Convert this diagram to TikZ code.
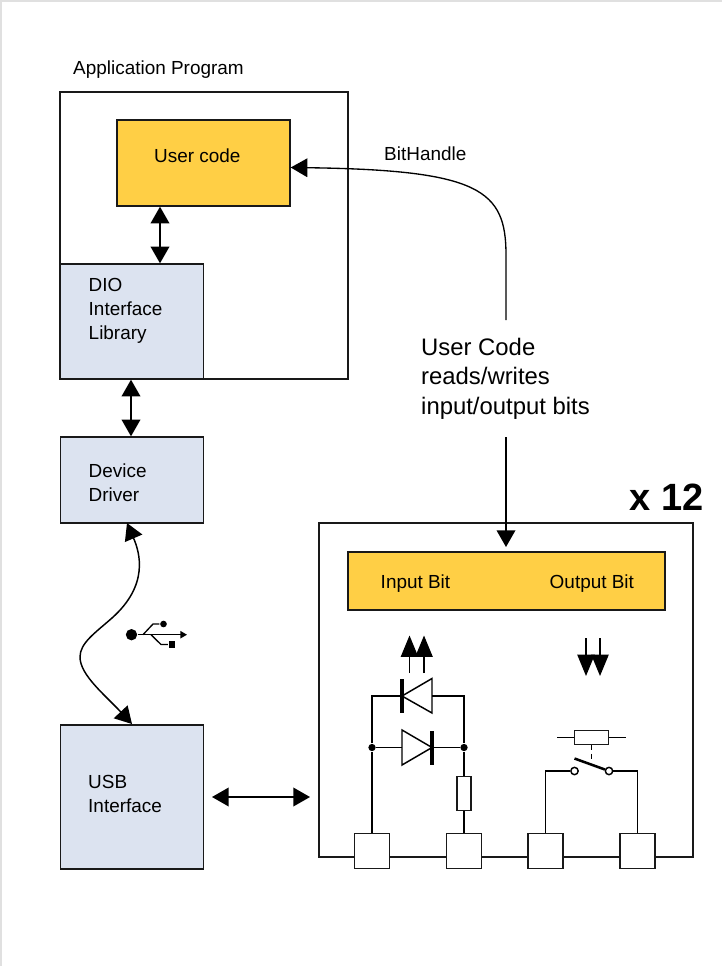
\documentclass[tikz,border=0pt]{standalone}
\usepackage{fontspec}
\setmainfont{Liberation Sans}
\usetikzlibrary{arrows.meta, shapes, positioning}
\definecolor{bluefill}{HTML}{DCE3F0}
\definecolor{yellowfill}{HTML}{FFCF45}

\begin{document}
\begin{tikzpicture}[
            x = 0.75pt, y = -0.75pt, % one unit is one pixel, y runs down
            > = {Triangle[length=12.5pt, width=14pt]}, % arrow head style
            line width = 1.1pt, % line style
        ]
 \tikzstyle{boxstyle}=[
            shape = rectangle,
            draw = black!90,
            line width = 1.05pt,
            inner sep = 0pt
        ]
 \tikzstyle{bluebox}=[boxstyle, fill = bluefill, minimum width = 107.5pt]
 \tikzstyle{yellowbox}=[boxstyle, fill = yellowfill]
 \tikzstyle{terminal}=[boxstyle, fill = white, line width = 1.2pt, minimum size = 26pt]
 \tikzstyle{labelstyle}=[
            anchor = west,
            align = left,
            inner sep = 0pt,
            font = \fontsize{14.2}{18}\selectfont
        ]
 \tikzstyle{bigarrow}=[-{Triangle[length=16pt, width=13pt]}, line width = 0.9pt]
 \tikzstyle{part}=[draw = black, line width = 1.1pt]
 \tikzstyle{joint}=[shape = circle, fill = black, inner sep = 0pt, minimum size = 5.5pt]
 \tikzstyle{contact}=[shape = circle, draw = black, fill = white, inner sep = 0pt, minimum size = 5.5pt]
\useasboundingbox (0,0) rectangle (722,966);
\draw[black!12, line width = 1pt] (1,966) -- (1,1) -- (722,1);

% application side
\node[boxstyle, minimum width = 216pt, minimum height = 215.25pt] (app) at (204,235.5) {};
\node[yellowbox, minimum width = 129.75pt, minimum height = 64.5pt] (usercode) at (203.5,163) {};
\node[bluebox, minimum height = 86.25pt] (dio) at (132,321.5) {};
\node[bluebox, minimum height = 64.5pt] (driver) at (132,480) {};
\node[bluebox, minimum height = 108pt] (usb) at (132,797) {};
\node[labelstyle] (apptext) at (72.5,69.5) {Application Program};
\node[labelstyle] (usercodetext) at (153.5,156) {User code};
\node[labelstyle] (diotext) at (88,311) {DIO\\Interface\\Library};
\node[labelstyle] (drivertext) at (88,482.5) {Device\\Driver};
\node[labelstyle] (usbtext) at (87.5,793.5) {USB\\Interface};
\node[labelstyle] (handletext) at (383.5,154) {BitHandle};
\node[labelstyle, font = \fontsize{17.9}{22}\selectfont] (readtext) at (420.5,378.5) {User Code\\reads/writes\\input/output bits};
\node[labelstyle, font = \fontsize{28.5}{30}\selectfont\bfseries] (timestext) at (629,497) {x 12};

% bit board
\node[boxstyle, minimum width = 280.5pt, minimum height = 250.5pt] (board) at (506,690) {};
\node[yellowbox, minimum width = 237.75pt, minimum height = 43.5pt] (bits) at (506.5,581) {};
\node[labelstyle] (inputtext) at (380,583.5) {Input Bit};
\node[labelstyle] (outputtext) at (549,583.5) {Output Bit};
\foreach \name/\xpos in {t1/372, t2/464, t3/545.5, t4/637.5}
    \node[terminal] (\name) at (\xpos,851) {};

% connectors
\draw[<->] (usercode.south -| 160,0) -- (dio.north -| 160,0);
\draw[<->] (dio.south -| 131,0) -- (driver.north -| 131,0);
\coordinate (usbleft) at (212,797);
\coordinate (usbright) at (310,797);
\draw[<->] (usbleft) -- (usbright);
\coordinate (readtop) at (506,320);
\coordinate (readbottom) at (506,437);
\coordinate (driverend) at (127,523);
\coordinate (usbend) at (132,724);
\draw[->, line width = 1pt] (readtop) -- (506,255) .. controls (506,190) and (480,170) .. (usercode.east |- 0,167.5);
\draw[->, line width = 1pt] (readbottom) -- (506,547);
\draw[<->, line width = 1.1pt] (driverend) .. controls (140,553) and (149,585) .. (112,618)
    .. controls (95,633) and (80,643) .. (80,657) .. controls (80,675) and (105,695) .. (usbend);

% usb symbol
\node[joint, minimum size = 8.5pt] (usbdot) at (131.5,634.7) {};
\coordinate (usbtip) at (187,634.7);
\node[joint, minimum size = 5pt] (usbround) at (163.5,624) {};
\node[shape = rectangle, fill = black, inner sep = 0pt, minimum size = 5pt] (usbsquare) at (172,644.5) {};
\draw[-{Triangle[length=5pt, width=5.5pt]}, line width = 1pt] (usbdot) -- (usbtip);
\draw[line width = 1pt] (143,634.7) -- (153,624) -- (usbround);
\draw[line width = 1pt] (151,634.7) -- (161,644.5) -- (usbsquare);

% input circuit
\node[joint] (j1) at (372,747.5) {};
\node[joint] (j2) at (464,747.5) {};
\coordinate (c1) at (372,696);
\coordinate (c2) at (464,696);
\node[boxstyle, fill = white, line width = 0.9pt, minimum width = 10.5pt, minimum height = 26pt] (res) at (464,793.5) {};
\draw[part] (t1.north) -- (j1) -- (c1) -- (402,696);
\draw[part] (432,696) -- (c2) -- (j2) -- (res.north);
\draw[part] (res.south) -- (t2.north);
\draw[part] (j1) -- (402,747.5);
\draw[part] (432,747.5) -- (j2);
\draw[part] (402,696) -- (432,678.5) -- (432,713) -- cycle;
\draw[part] (402,730) -- (432,747.5) -- (402,765) -- cycle;
\draw[line width = 2.6pt] (402,679) -- (402,713);
\draw[line width = 2.6pt] (432,731) -- (432,765);
\draw[bigarrow] (409.5,673) -- (409.5,635.5);
\draw[bigarrow] (424,673) -- (424,635.5);

% output circuit
\node[contact] (k1) at (574.5,771) {};
\node[contact] (k2) at (609,771) {};
\node[boxstyle, fill = white, line width = 0.9pt, minimum width = 26pt, minimum height = 10.5pt] (swres) at (591.5,737.5) {};
\coordinate (leadleft) at (557,737.5);
\coordinate (leadright) at (626,737.5);
\draw[part] (t3.north) |- (k1);
\draw[part] (t4.north) |- (k2);
\draw[part] (leadleft) -- (swres.west);
\draw[part] (swres.east) -- (leadright);
\draw[part, dashed, dash pattern = on 4pt off 2.5pt] (swres.south) -- (591.5,762);
\draw[line width = 1.9pt] (574.5,758.5) -- (k2);
\draw[bigarrow] (586,638) -- (586,676);
\draw[bigarrow] (600,638) -- (600,676);
\end{tikzpicture}
\end{document}
